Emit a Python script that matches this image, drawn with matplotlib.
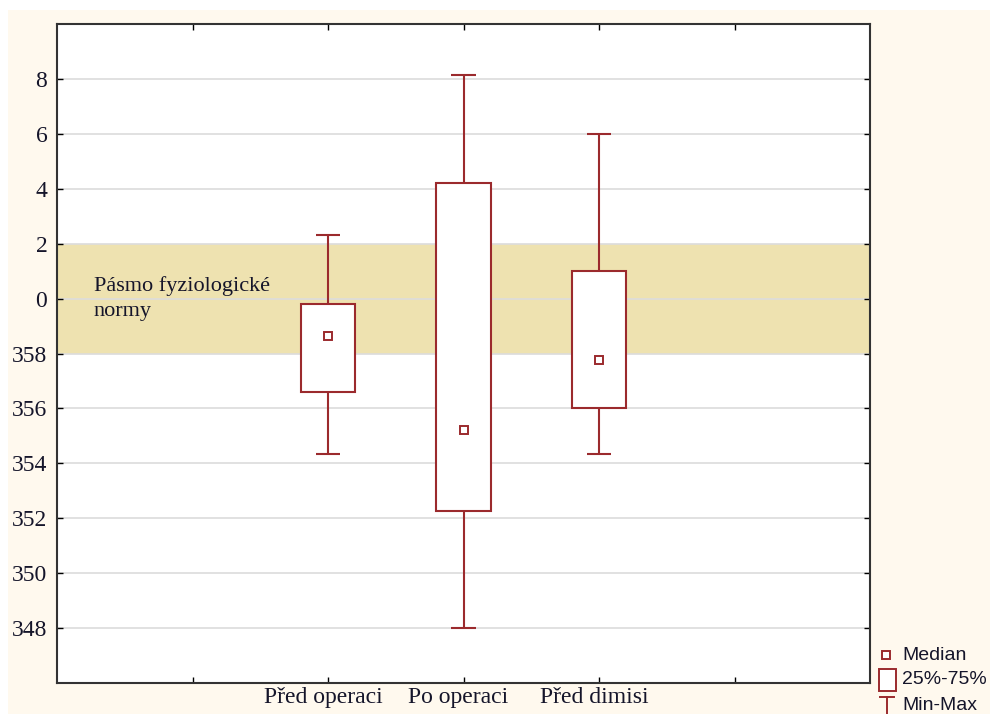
import matplotlib.pyplot as plt
import matplotlib.transforms as mtransforms
from matplotlib.patches import Rectangle
from matplotlib.lines import Line2D

# angles in degrees, 360 = 0
groups = ["Před operaci", "Po operaci", "Před dimisi"]
mins = [354.33, 348.0, 354.33]
q1 = [356.6, 352.25, 356.0]
medians = [358.65, 355.2, 357.78]
q3 = [359.82, 364.2, 361.0]
maxs = [362.3, 368.15, 366.0]

norm_low, norm_high = 358, 362
yticks = list(range(348, 369, 2))

red = "#9B2A2D"
txt = "#15152a"

W, H = 990, 714
fig = plt.figure(figsize=(W / 100, H / 100), dpi=100, facecolor="#FFF9EE")
# white strips at the page edge
fig.add_artist(Rectangle((0, 1 - 10 / H), 1, 10 / H, transform=fig.transFigure,
                         facecolor="white", edgecolor="none", zorder=0))
fig.add_artist(Rectangle((0, 0), 8 / W, 1, transform=fig.transFigure,
                         facecolor="white", edgecolor="none", zorder=0))

ax = fig.add_axes([57 / W, 1 - 683 / H, (870 - 57) / W, (683 - 24) / H])
ax.set_facecolor("white")

ax.axhspan(norm_low, norm_high, color="#EEE2B0", zorder=0.5, lw=0)
for y in yticks:
    ax.axhline(y, color="#DCDCDC", lw=1.2, zorder=1)

xs = [2, 3, 4]
ax.bar(xs, [b - a for a, b in zip(q1, q3)], bottom=q1, width=0.4,
       facecolor="white", edgecolor=red, linewidth=1.5, zorder=3)
ax.vlines(xs, mins, q1, color=red, lw=1.5, zorder=3)
ax.vlines(xs, q3, maxs, color=red, lw=1.5, zorder=3)
ax.hlines(mins, [x - 0.09 for x in xs], [x + 0.09 for x in xs], color=red, lw=1.5, zorder=3)
ax.hlines(maxs, [x - 0.09 for x in xs], [x + 0.09 for x in xs], color=red, lw=1.5, zorder=3)
ax.plot(xs, medians, ls="none", marker="s", ms=6, mfc="white", mec=red, mew=1.4, zorder=4)

ax.text(0.27, 360.0, "Pásmo fyziologické\nnormy", family="Liberation Serif",
        fontsize=16, color=txt, va="center", ha="left", linespacing=1.45, zorder=5)

ax.set_xlim(0, 6)
ax.set_ylim(346, 370)
ax.set_xticks([1, 2, 3, 4, 5])
ax.set_xticklabels(["", *groups, ""], family="Liberation Serif", fontsize=17, color=txt)
ax.set_yticks(yticks)
ax.set_yticklabels([str(v % 360) for v in yticks], family="Liberation Serif",
                   fontsize=17, color=txt)
ax.tick_params(direction="in", length=4, width=1, top=True, right=True, pad=7)
ax.tick_params(axis="x", pad=3)
for s in ax.spines.values():
    s.set_color("#333333")
    s.set_linewidth(1.5)

# category labels sit a little left of their ticks
shift = mtransforms.ScaledTranslation(-5 / 100, 0, fig.dpi_scale_trans)
for lbl in ax.get_xticklabels():
    lbl.set_transform(lbl.get_transform() + shift)

# legend drawn beside the plot
def px(x, y):
    return x / W, 1 - y / H

fig.add_artist(Line2D(*zip(px(886, 655)), marker="s", ms=6, mfc="white", mec=red,
                      mew=1.4, ls="none", transform=fig.transFigure))
fig.add_artist(Rectangle(px(879, 691), 17 / W, 22 / H, transform=fig.transFigure,
                         facecolor="white", edgecolor=red, lw=1.4))
xa, ya = px(880, 697)
xb, _ = px(894, 697)
fig.add_artist(Line2D([xa, xb], [ya, ya], color=red, lw=1.4, transform=fig.transFigure))
xm, _ = px(887, 697)
fig.add_artist(Line2D([xm, xm], [ya, 0], color=red, lw=1.4, transform=fig.transFigure))
for label, y in [("Median", 655), ("25%-75%", 680), ("Min-Max", 705)]:
    fig.text(*px(902, y), label, family="Liberation Sans", fontsize=14, color=txt,
             va="center", ha="left")

fig.savefig("out.png", dpi=100, facecolor=fig.get_facecolor())
